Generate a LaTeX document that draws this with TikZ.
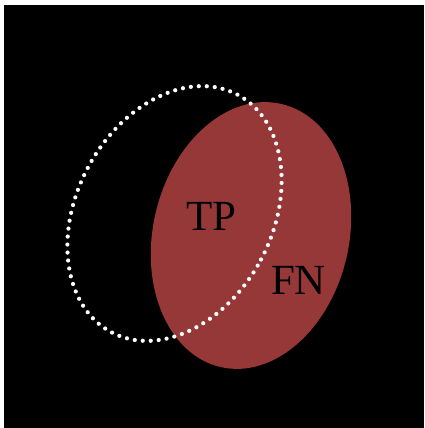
\documentclass[tikz,border=0pt]{standalone}
\usepackage{fontspec}
\setmainfont{Liberation Serif}
\usetikzlibrary{positioning}
\definecolor{fnred}{RGB}{150,56,56}

\begin{document}
\begin{tikzpicture}[
  x=1pt, y=1pt,
  actual/.style={fill=fnred},
  predicted/.style={draw=white, line width=4.2pt, line cap=round, dash pattern=on 0pt off 8pt},
  lbl/.style={font=\fontsize{43}{43}\selectfont, text=black, inner sep=0pt}
]
  % frame
  \fill[white] (0,0) rectangle (424,428);
  \useasboundingbox (0,0) rectangle (424,428);
  \fill[black] (4,0) rectangle (424,423);

  % actual positives
  \fill[actual, rotate around={-13:(251,192.5)}] (251,192.5) ellipse [x radius=98, y radius=135];

  % predicted positives
  \draw[predicted, rotate around={-28:(174.5,214.5)}] (174.5,214.5) ellipse [x radius=98, y radius=134.5];

  % labels
  \node[lbl] (tp) at (211.5,212) {TP};
  \node[lbl] (fn) at (298.5,147.5) {FN};
\end{tikzpicture}
\end{document}
